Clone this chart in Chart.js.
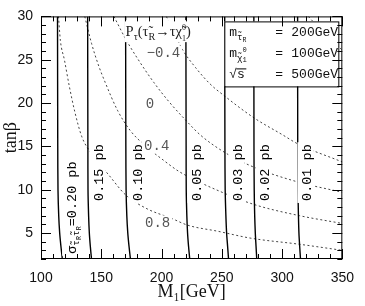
<!DOCTYPE html>
<html>
<head>
<meta charset="utf-8">
<script src="https://cdn.jsdelivr.net/npm/chart.js@4.4.0/dist/chart.umd.min.js"></script>
<style>
  html, body { margin: 0; padding: 0; background: #fff; }
</style>
</head>
<body>
<canvas id="chart" width="365" height="306"></canvas>
<script>
// ── Axes ──────────────────────────────────────
const m1Ticks   = [100, 150, 200, 250, 300, 350];
const tanbTicks = [5, 10, 15, 20, 25, 30];

// ── Cross-section contours (M1 at each tanβ sample) ──
const tanbSamples = [30, 15, 10, 7, 5, 3.5, 2];
const sigmaLevels = ['0.20', '0.15', '0.10', '0.05', '0.03', '0.02', '0.01'];
const sigma020 = [113.7, 113.9, 114.1, 114.7, 115.5, 116.5, 117.7];
const sigma015 = [138.7, 138.9, 139.0, 139.5, 140.1, 140.9, 141.9];
const sigma010 = [170.2, 170.4, 170.6, 171.2, 172.0, 173.0, 174.2];
const sigma005 = [220.2, 220.4, 220.5, 221.0, 221.6, 222.4, 223.4];
const sigma003 = [252.4, 252.6, 252.8, 253.4, 254.0, 254.8, 255.6];
const sigma002 = [276.6, 276.7, 276.9, 277.3, 277.8, 278.4, 279.0];
const sigma001 = [312.9, 313.0, 313.2, 313.6, 314.0, 314.6, 315.3];
const sigmaM1  = [sigma020, sigma015, sigma010, sigma005, sigma003, sigma002, sigma001];

// ── Tau polarisation contours ─────────────────
const polLevels = ['0.8', '0.4', '0', '-0.4', '-0.8'];
const pol08M1    = [114.5, 116.1, 119.4, 123.4, 128.2, 133.9, 141.1, 147.6, 155.6, 170.2, 187.9, 208.1, 221.8, 246.8, 274.2, 314.5, 350];
const pol08Tanb  = [30, 27.2, 25.0, 22.0, 18.9, 16.1, 14.3, 13.1, 11.8, 9.4, 7.8, 6.7, 5.9, 5.2, 4.4, 3.7, 3.0];
const pol04M1    = [136.3, 141.9, 147.6, 153.2, 163.7, 174.2, 186.3, 201.6, 214.5, 228.2, 241.9, 276.6, 314.5, 350];
const pol04Tanb  = [30, 26.9, 24.4, 22.4, 19.1, 16.8, 15.1, 13.4, 12.1, 11.1, 10.2, 8.3, 7.0, 6.1];
const pol0M1     = [160.5, 170.2, 179.8, 193.5, 206.5, 220.2, 232.3, 252.4, 276.6, 312.9, 350];
const pol0Tanb   = [30, 27.4, 25.2, 22.4, 20.1, 18.0, 16.3, 14.3, 12.6, 10.9, 9.7];
const polm04M1   = [204.0, 210.5, 217.7, 228.2, 240.3, 252.4, 276.6, 300.8, 312.9, 350];
const polm04Tanb = [30, 28.1, 26.1, 24.1, 22.2, 20.8, 18.3, 16.3, 15.3, 13.2];
const polm08M1   = [321.8, 333.1, 350];
const polm08Tanb = [30, 28.3, 26.1];
const polM1   = [pol08M1, pol04M1, pol0M1, polm04M1, polm08M1];
const polTanb = [pol08Tanb, pol04Tanb, pol0Tanb, polm04Tanb, polm08Tanb];

// ── Label anchors (data units) ────────────────
const sigmaLabelM1   = [125.0, 147.6, 179.8, 229.0, 262.9, 285.5, 320.2];
const sigmaLabelTanb = [2.6, 8.7, 8.7, 8.7, 8.7, 8.7, 8.7];
const polLabels = [
  { text: '0.8',  m1: 196.8, tanb: 6.1 },
  { text: '0.4',  m1: 196.0, tanb: 15.0 },
  { text: '0',    m1: 190.3, tanb: 19.9 },
  { text: '\u22120.4', m1: 201.6, tanb: 25.7 },
];

const SERIF = '"Liberation Serif", serif';
const MONO  = '"Liberation Mono", monospace';

// ── Rich text (sub / superscripts) ────────────
function richText(ctx, x, y, parts, size, family, draw = true) {
  let cx = x;
  parts.forEach(([txt, kind]) => {
    if (kind === 'stack') {
      const [a, b] = txt.split('|');
      ctx.font = `${size * 0.55}px ${family}`;
      if (draw) {
        ctx.fillText(a, cx, y - size * 0.42);
        ctx.fillText(b, cx, y + size * 0.32);
      }
      cx += Math.max(ctx.measureText(a).width, ctx.measureText(b).width);
      return;
    }
    let fs = size, dy = 0;
    if (kind === 'sub')  { fs = size * 0.7;  dy = size * 0.28; }
    if (kind === 'sub2') { fs = size * 0.5;  dy = size * 0.42; }
    ctx.font = `${fs}px ${family}`;
    if (draw) ctx.fillText(txt, cx, y + dy);
    cx += ctx.measureText(txt).width;
  });
  return cx - x;
}

const overlay = {
  id: 'overlay',
  afterDatasetsDraw(chart) {
    const { ctx, chartArea: a, scales: { x, y } } = chart;
    ctx.save();
    ctx.beginPath();
    ctx.rect(a.left, a.top, a.right - a.left, a.bottom - a.top);
    ctx.clip();

    // polarisation labels
    polLabels.forEach(l => {
      const px = x.getPixelForValue(l.m1), py = y.getPixelForValue(l.tanb);
      ctx.font = `14px ${MONO}`;
      const w = ctx.measureText(l.text).width;
      ctx.fillStyle = '#fff';
      ctx.fillRect(px - w / 2 - 2, py - 8, w + 4, 15);
      ctx.fillStyle = '#555';
      ctx.textAlign = 'center';
      ctx.textBaseline = 'middle';
      ctx.fillText(l.text, px, py);
    });
    ctx.textAlign = 'left';
    ctx.textBaseline = 'alphabetic';

    // rotated cross-section labels
    sigmaLevels.forEach((lv, i) => {
      const px = x.getPixelForValue(sigmaLabelM1[i]);
      const py = y.getPixelForValue(sigmaLabelTanb[i]);
      const parts = i === 0
        ? [['\u03c3', ''], ['\u03c4\u0303', 'sub'], ['R', 'sub2'], ['\u03c4\u0303', 'sub'], ['R', 'sub2'], ['=' + lv + ' pb', '']]
        : [[lv + ' pb', '']];
      ctx.save();
      ctx.translate(px, py);
      ctx.rotate(-Math.PI / 2);
      const w = richText(ctx, 0, 0, parts, 13.5, MONO, false);
      ctx.fillStyle = '#fff';
      ctx.fillRect(-2, -9, w + 4, 16);
      ctx.fillStyle = '#000';
      richText(ctx, 0, 4.5, parts, 13.5, MONO);
      ctx.restore();
    });

    // P_tau title
    {
      const px = x.getPixelForValue(170.2), py = y.getPixelForValue(28.3);
      const parts = [['P', ''], ['\u03c4', 'sub'], ['(\u03c4\u0303', ''], ['R', 'sub'], ['\u2192\u03c4\u03c7\u0303', ''], ['0|1', 'stack'], [')', '']];
      const w = richText(ctx, 0, 0, parts, 14.5, SERIF, false);
      ctx.fillStyle = '#fff';
      ctx.fillRect(px - 1, py - 11, w + 2, 22);
      ctx.fillStyle = '#222';
      richText(ctx, px, py + 5, parts, 14.5, SERIF);
    }
    ctx.restore();

    // legend box
    ctx.save();
    const bx = a.right - 118, by = a.top + 5, bw = 114, bh = 65;
    ctx.fillStyle = '#fff';
    ctx.fillRect(bx, by, bw, bh);
    ctx.strokeStyle = '#000';
    ctx.lineWidth = 1;
    ctx.strokeRect(bx + 0.5, by + 0.5, bw, bh);
    ctx.fillStyle = '#111';
    const rows = [
      [[['m', ''], ['\u03c4\u0303', 'sub'], ['R', 'sub2']], '200GeV'],
      [[['m', ''], ['\u03c7\u0303', 'sub'], ['0|1', 'stack']], '100GeV'],
      [[['\u221as', '']], '500GeV'],
    ];
    rows.forEach(([lhs, val], i) => {
      const base = by + 15 + i * 21;
      richText(ctx, bx + 5, base, lhs, 13, MONO);
      ctx.font = `13px ${MONO}`;
      ctx.fillText('=', bx + 51, base);
      ctx.fillText(val, bx + 67, base);
    });
    // overline of sqrt(s)
    ctx.beginPath();
    ctx.moveTo(bx + 12, by + 47.5);
    ctx.lineTo(bx + 22, by + 47.5);
    ctx.stroke();
    ctx.restore();
  },
  afterDraw(chart) {
    const { ctx, chartArea: a, scales: { x, y } } = chart;
    ctx.save();
    ctx.strokeStyle = '#000';
    ctx.lineWidth = 1;
    ctx.strokeRect(a.left + 0.5, a.top + 0.5, a.right - a.left - 1, a.bottom - a.top - 1);
    ctx.beginPath();
    for (let v = 100; v <= 350; v += 10) {
      const px = Math.round(x.getPixelForValue(v)) + 0.5;
      const len = v % 50 === 0 ? 10 : 5;
      ctx.moveTo(px, a.bottom); ctx.lineTo(px, a.bottom - len);
      ctx.moveTo(px, a.top);    ctx.lineTo(px, a.top + len);
    }
    for (let v = 2; v <= 30; v++) {
      const py = Math.round(y.getPixelForValue(v)) + 0.5;
      const len = v % 5 === 0 ? 10 : 5;
      ctx.moveTo(a.left, py);  ctx.lineTo(a.left + len, py);
      ctx.moveTo(a.right, py); ctx.lineTo(a.right - len, py);
    }
    ctx.stroke();
    ctx.restore();
  }
};

const datasets = [];
sigmaM1.forEach((line, i) => {
  datasets.push({
    label: sigmaLevels[i] + ' pb',
    data: line.map((m, j) => ({ x: m, y: tanbSamples[j] })),
    showLine: true,
    borderColor: '#000',
    borderWidth: 1.4,
    pointRadius: 0,
    tension: 0.3,
  });
});
polM1.forEach((line, i) => {
  datasets.push({
    label: 'P = ' + polLevels[i],
    data: line.map((m, j) => ({ x: m, y: polTanb[i][j] })),
    showLine: true,
    borderColor: '#444',
    borderWidth: 1,
    borderDash: [2, 2.5],
    pointRadius: 0,
    cubicInterpolationMode: 'monotone',
  });
});

new Chart(document.getElementById('chart').getContext('2d'), {
  type: 'scatter',
  data: { datasets },
  options: {
    responsive: false,
    animation: false,
    layout: { padding: { top: 5, right: 14, bottom: 0, left: 0 } },
    plugins: { legend: { display: false }, tooltip: { enabled: false } },
    scales: {
      x: {
        type: 'linear', min: 100, max: 350,
        afterBuildTicks: s => { s.ticks = m1Ticks.map(v => ({ value: v })); },
        afterFit: s => { s.height = 47; },
        grid: { display: false, drawTicks: false },
        border: { display: false },
        ticks: { color: '#111', padding: 11, font: { family: '"Liberation Sans"', size: 14 } },
        title: { display: true, text: 'M\u2081[GeV]', color: '#111', padding: { top: 0, bottom: 3 },
                 font: { family: SERIF, size: 18 } },
      },
      y: {
        type: 'linear', min: 2, max: 30,
        afterBuildTicks: s => { s.ticks = tanbTicks.map(v => ({ value: v })); },
        afterFit: s => { s.width = 41; },
        grid: { display: false, drawTicks: false },
        border: { display: false },
        ticks: { color: '#111', padding: 8, font: { family: '"Liberation Sans"', size: 14 } },
        title: { display: true, text: 'tan\u03b2', color: '#111', padding: { top: 0, bottom: 0 },
                 font: { family: SERIF, size: 18 } },
      },
    },
  },
  plugins: [overlay],
});
</script>
</body>
</html>
